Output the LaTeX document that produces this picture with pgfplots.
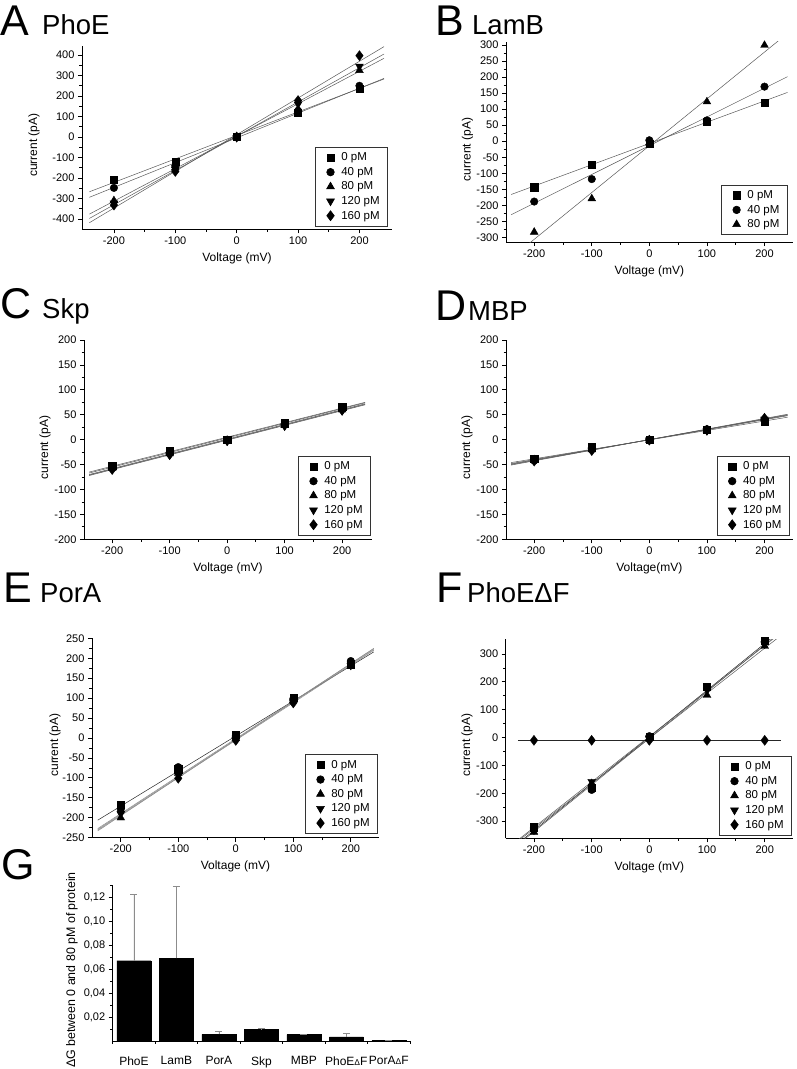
\documentclass[border=0pt]{standalone}
\usepackage{fontspec}
\setmainfont{Liberation Sans}
\usepackage{pgfplots}
\pgfplotsset{compat=1.18}

\pgfplotsset{
  ivaxis/.style={
    scale only axis, anchor=south west,
    axis x line*=bottom, axis y line*=left,
    axis line style={line width=0.8pt, -},
    tick align=outside, tick style={line width=0.8pt, black},
    major tick length=4pt, minor tick length=2.5pt,
    minor x tick num=1, minor y tick num=1,
    xtick={-200,-100,...,200},
    ticklabel style={font=\fontsize{11}{13}\selectfont},
    /pgf/number format/assume math mode=true,
    label style={font=\fontsize{12}{14}\selectfont},
    xlabel={Voltage (mV)}, ylabel={current (pA)},
    xlabel style={at={(axis description cs:0.5,0)}, anchor=center, yshift=-29pt},
    legend cell align=left,
    legend style={at={(1,0)}, anchor=south east, draw=black!80, line width=0.6pt,
      inner xsep=6pt, inner ysep=3pt, font=\fontsize{11.5}{14}\selectfont,
      nodes={inner xsep=2pt, inner ysep=2.5pt}},
  },
  mk/.style={only marks, black,
    legend image code/.code={
      \path (0cm,0cm) (0.6cm,0cm);
      \draw[mark repeat=2, mark phase=2, ##1] plot coordinates {(0cm,0cm) (0.3cm,0cm) (0.6cm,0cm)};}},
  m0/.style={mk, mark=square*, mark size=3.6pt},
  m40/.style={mk, mark=*, mark size=3.8pt},
  m80/.style={mk, mark=triangle*, mark size=4.5pt},
  m120/.style={mk, mark=triangle*, mark size=4.5pt, mark options={rotate=180}},
  m160/.style={mk, mark=diamond*, mark size=5pt},
  fit/.style={no marks, black!65, line width=0.5pt, forget plot},
}
\tikzset{
  letter/.style={anchor=base west, inner sep=0pt, font=\fontsize{43}{43}\selectfont},
  title/.style={anchor=base west, inner sep=0pt, font=\fontsize{27.5}{28}\selectfont},
}

\begin{document}
\begin{tikzpicture}
\useasboundingbox (0,0) rectangle (797pt,-1069pt);

% panel letters and titles
\node[letter] at (0pt,-35pt) {A};
\node[title] at (42pt,-34pt) {PhoE};
\node[letter] at (435pt,-35pt) {B};
\node[title] at (472pt,-34pt) {LamB};
\node[letter] at (0pt,-318pt) {C};
\node[title] at (42pt,-318pt) {Skp};
\node[letter] at (435pt,-320pt) {D};
\node[title] at (468pt,-320pt) {MBP};
\node[letter] at (3pt,-602pt) {E};
\node[title] at (40pt,-602pt) {PorA};
\node[letter] at (436pt,-602pt) {F};
\node[title] at (467pt,-602pt) {PhoEΔF};
\node[letter] at (1pt,-879pt) {G};

% A PhoE
\begin{axis}[ivaxis, at={(82pt,-229.3pt)}, width=310pt, height=183.5pt,
  xmin=-252, xmax=253, ymin=-450, ymax=445,
  ytick={-400,-300,...,400},
  ylabel style={at={(axis description cs:-0.155,0.459)}, anchor=center},
  legend style={xshift=-4pt, yshift=3pt}]
\addplot[fit] coordinates {(-240,-267) (240,283)};
\addplot[fit] coordinates {(-240,-294) (240,286)};
\addplot[fit] coordinates {(-240,-376) (240,384)};
\addplot[fit] coordinates {(-240,-397) (240,405)};
\addplot[fit] coordinates {(-240,-418) (240,441)};
\addplot[m0] coordinates {(-200,-210) (-100,-122) (0,0) (100,118) (200,235)};
\addplot[m40] coordinates {(-200,-248) (-100,-140) (0,0) (100,128) (200,250)};
\addplot[m80] coordinates {(-200,-310) (-100,-150) (0,2) (100,135) (200,325)};
\addplot[m120] coordinates {(-200,-322) (-100,-158) (0,-2) (100,160) (200,345)};
\addplot[m160] coordinates {(-200,-332) (-100,-168) (0,0) (100,178) (200,397)};
\legend{0 pM, 40 pM, 80 pM, 120 pM, 160 pM}
\end{axis}

% B LamB
\begin{axis}[ivaxis, at={(506pt,-242pt)}, width=286.7pt, height=200.3pt,
  xmin=-249, xmax=249, ymin=-314, ymax=310,
  ytick={-300,-250,...,300},
  ylabel style={at={(axis description cs:-0.134,0.462)}, anchor=center},
  legend style={xshift=-5pt, yshift=7pt}]
\addplot[fit] coordinates {(-240,-166) (240,152)};
\addplot[fit] coordinates {(-240,-229) (240,201)};
\addplot[fit] coordinates {(-240,-364) (240,336)};
\addplot[m0] coordinates {(-200,-143) (-100,-74) (0,-8) (100,62) (200,120)};
\addplot[m40] coordinates {(-200,-188) (-100,-118) (0,3) (100,65) (200,170)};
\addplot[m80] coordinates {(-200,-283) (-100,-179) (0,-5) (100,123) (200,299)};
\legend{0 pM, 40 pM, 80 pM}
\end{axis}

% C Skp
\begin{axis}[ivaxis, at={(84pt,-539.3pt)}, width=288pt, height=199.3pt,
  xmin=-249, xmax=252, ymin=-200, ymax=200,
  ytick={-200,-150,...,200},
  ylabel style={at={(axis description cs:-0.135,0.461)}, anchor=center},
  legend style={xshift=-1pt, yshift=4pt}]
\addplot[fit] coordinates {(-240,-65) (240,75)};
\addplot[fit] coordinates {(-240,-67) (240,74)};
\addplot[fit] coordinates {(-240,-70) (240,72)};
\addplot[fit] coordinates {(-240,-71) (240,71)};
\addplot[fit] coordinates {(-240,-72) (240,70)};
\addplot[m0] coordinates {(-200,-52) (-100,-22) (0,0) (100,33) (200,66)};
\addplot[m40] coordinates {(-200,-55) (-100,-26) (0,-1) (100,31) (200,62)};
\addplot[m80] coordinates {(-200,-57) (-100,-28) (0,-2) (100,29) (200,60)};
\addplot[m120] coordinates {(-200,-59) (-100,-31) (0,-3) (100,27) (200,58)};
\addplot[m160] coordinates {(-200,-60) (-100,-30) (0,-2) (100,29) (200,59)};
\legend{0 pM, 40 pM, 80 pM, 120 pM, 160 pM}
\end{axis}

% D MBP
\begin{axis}[ivaxis, at={(506pt,-539.3pt)}, width=286.7pt, height=199.3pt,
  xmin=-249, xmax=249, ymin=-200, ymax=200,
  ytick={-200,-150,...,200}, xlabel={Voltage(mV)},
  ylabel style={at={(axis description cs:-0.136,0.461)}, anchor=center},
  legend style={xshift=-3pt, yshift=4pt}]
\addplot[fit] coordinates {(-240,-46) (240,45)};
\addplot[fit] coordinates {(-240,-48) (240,48)};
\addplot[fit] coordinates {(-240,-50) (240,50)};
\addplot[fit] coordinates {(-240,-49) (240,49)};
\addplot[fit] coordinates {(-240,-51) (240,51)};
\addplot[m0] coordinates {(-200,-38) (-100,-15) (0,0) (100,20) (200,36)};
\addplot[m40] coordinates {(-200,-42) (-100,-18) (0,0) (100,21) (200,40)};
\addplot[m80] coordinates {(-200,-40) (-100,-20) (0,-1) (100,19) (200,42)};
\addplot[m120] coordinates {(-200,-41) (-100,-21) (0,-1) (100,18) (200,41)};
\addplot[m160] coordinates {(-200,-43) (-100,-22) (0,-1) (100,19) (200,43)};
\legend{0 pM, 40 pM, 80 pM, 120 pM, 160 pM}
\end{axis}

% E PorA
\begin{axis}[ivaxis, at={(92pt,-837.7pt)}, width=287pt, height=199.4pt,
  xmin=-250, xmax=249, ymin=-250, ymax=250,
  ytick={-250,-200,...,250},
  ylabel style={at={(axis description cs:-0.129,0.465)}, anchor=center},
  legend style={xshift=-1pt, yshift=4pt}]
\addplot[fit, black!85] coordinates {(-240,-206) (240,216)};
\addplot[fit, black!45] coordinates {(-240,-227) (240,224)};
\addplot[fit, black!45] coordinates {(-240,-229) (240,222)};
\addplot[fit, black!45] coordinates {(-240,-231) (240,220)};
\addplot[fit, black!45] coordinates {(-240,-233) (240,225)};
\addplot[m0] coordinates {(-200,-167) (-100,-78) (0,8) (100,101) (200,185)};
\addplot[m40] coordinates {(-200,-178) (-100,-73) (0,5) (100,98) (200,193)};
\addplot[m80] coordinates {(-200,-200) (-100,-88) (0,0) (100,95) (200,180)};
\addplot[m120] coordinates {(-200,-190) (-100,-92) (0,-4) (100,90) (200,182)};
\addplot[m160] coordinates {(-200,-185) (-100,-101) (0,-6) (100,88) (200,186)};
\legend{0 pM, 40 pM, 80 pM, 120 pM, 160 pM}
\end{axis}

% F PhoE delta F
\begin{axis}[ivaxis, at={(505.7pt,-838.3pt)}, width=287.3pt, height=199.3pt,
  xmin=-249, xmax=249, ymin=-362, ymax=354,
  ytick={-300,-200,...,300},
  ylabel style={at={(axis description cs:-0.135,0.468)}, anchor=center},
  legend style={xshift=-1pt, yshift=3pt}]
\addplot[fit, black!85] coordinates {(-240,-401) (240,405)};
\addplot[fit] coordinates {(-240,-405) (240,400)};
\addplot[fit] coordinates {(-240,-392) (240,386)};
\addplot[fit] coordinates {(-240,-388) (240,396)};
\addplot[fit, black!85] coordinates {(-228,-10) (228,-10)};
\addplot[m0] coordinates {(-200,-322) (-100,-180) (0,3) (100,184) (200,348)};
\addplot[m40] coordinates {(-200,-330) (-100,-188) (0,5) (100,180) (200,343)};
\addplot[m80] coordinates {(-200,-340) (-100,-165) (0,-3) (100,152) (200,328)};
\addplot[m120] coordinates {(-200,-333) (-100,-158) (0,-5) (100,170) (200,336)};
\addplot[m160] coordinates {(-200,-10) (-100,-10) (0,-10) (100,-10) (200,-10)};
\legend{0 pM, 40 pM, 80 pM, 120 pM, 160 pM}
\end{axis}

% G bar chart
\begin{axis}[scale only axis, anchor=south west, at={(112.7pt,-1041pt)},
  width=297.3pt, height=156pt,
  xmin=-0.5, xmax=6.5, ymin=0, ymax=0.13,
  axis x line*=bottom, axis y line*=left,
  axis line style={line width=0.8pt, -},
  tick align=outside, tick style={line width=0.8pt, black},
  major tick length=4pt, minor tick length=2.5pt,
  ybar, bar width=34pt,
  xtick={0,...,6},
  xticklabels={PhoE, LamB, PorA, Skp, MBP,
    PhoE{\fontsize{8.5}{9}\selectfont Δ}F, PorA{\fontsize{8.5}{9}\selectfont Δ}F},
  major x tick style={draw=none},
  minor xtick={-0.5,0.5,...,6.5},
  ytick={0.02,0.04,0.06,0.08,0.10,0.12},
  minor ytick={0.01,0.03,0.05,0.07,0.09,0.11,0.13},
  /pgf/number format/assume math mode=true,
  yticklabel style={font=\fontsize{11}{13}\selectfont,
    /pgf/number format/.cd, fixed, fixed zerofill, precision=2, use comma},
  xticklabel style={font=\fontsize{12}{14}\selectfont, yshift=-8pt},
  ylabel={ΔG between 0 and 80 pM of protein},
  ylabel style={font=\fontsize{12.4}{14}\selectfont,
    at={(axis description cs:-0.137,0.455)}, anchor=center},
]
\addplot[fill=black, draw=black,
  error bars/.cd, y dir=plus, y explicit,
  error bar style={black!45, line width=0.6pt},
  error mark options={rotate=90, black!45, mark size=3.5pt, line width=0.6pt}]
  coordinates {
    (0,0.0669) +- (0,0.0553)
    (1,0.0689) +- (0,0.0597)
    (2,0.0056) +- (0,0.0025)
    (3,0.0097) +- (0,0.0005)
    (4,0.0053) +- (0,0)
    (5,0.0034) +- (0,0.0027)
    (6,0.0003) +- (0,0)
  };
\end{axis}
\end{tikzpicture}
\end{document}
